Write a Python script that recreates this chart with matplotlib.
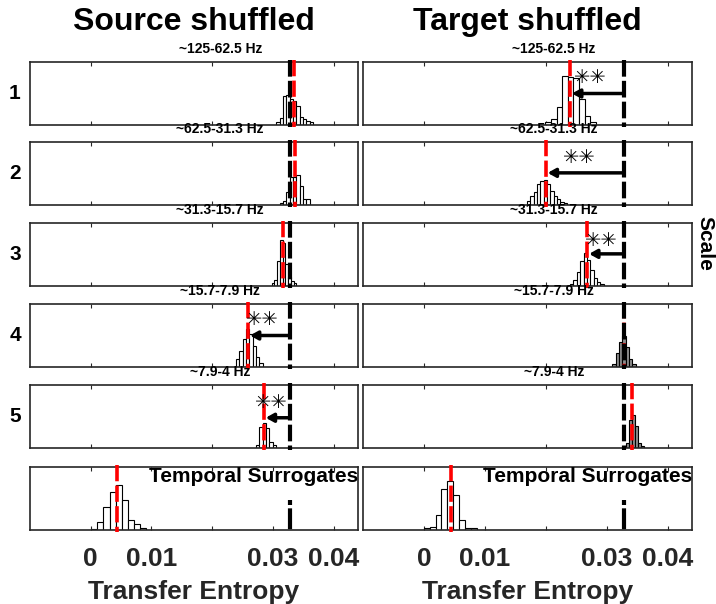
import numpy as np
import matplotlib
matplotlib.use("Agg")
import matplotlib.pyplot as plt

plt.rcParams['font.family'] = ['Liberation Sans', 'DejaVu Sans']

FS = 'Source shuffled'
TS = 'Target shuffled'
freq_labels = ['~125-62.5 Hz', '~62.5-31.3 Hz', '~31.3-15.7 Hz', '~15.7-7.9 Hz', '~7.9-4 Hz']
row_labels = ['1', '2', '3', '4', '5']
temporal_label = 'Temporal Surrogates'
observed_te = 0.0328

# Source-shuffled panels: (first bin edge, bin width, heights as fraction of panel)
src_start = [0.03055, 0.0311, 0.0298, 0.0239, 0.0272, 0.0001]
src_width = [0.00055, 0.00055, 0.00045, 0.00055, 0.00055, 0.001]
src_heights = [
    [0.05, 0.11, 0.46, 0.48, 0.42, 0.38, 0.30, 0.13, 0.10, 0.07, 0.04],
    [0.03, 0.06, 0.20, 0.45, 0.44, 0.48, 0.30, 0.10, 0.09],
    [0.04, 0.10, 0.39, 0.73, 0.68, 0.35, 0.15, 0.08, 0.04],
    [0.13, 0.26, 0.44, 0.60, 0.52, 0.34, 0.16, 0.07],
    [0.05, 0.34, 0.40, 0.32, 0.10, 0.04],
    [0.02, 0.12, 0.37, 0.60, 0.71, 0.47, 0.16, 0.10, 0.03],
]
src_red = [0.0334, 0.0337, 0.0316, 0.0259, 0.0285, 0.0043]
src_sig = [None, None, None, (0.0283, 0.75, 0.50), (0.0298, 0.72, 0.48), None]

# Target-shuffled panels
tgt_start = [0.0199, 0.0169, 0.0240, 0.0309, 0.0331, 0.0000]
tgt_width = [0.00093, 0.00055, 0.00055, 0.00055, 0.0005, 0.00096]
tgt_heights = [
    [0.04, 0.10, 0.28, 0.78, 0.76, 0.74, 0.42, 0.15, 0.04],
    [0.06, 0.14, 0.20, 0.33, 0.38, 0.40, 0.33, 0.22, 0.14, 0.09, 0.05, 0.03],
    [0.03, 0.10, 0.23, 0.39, 0.52, 0.42, 0.25, 0.12, 0.06, 0.03],
    [0.04, 0.23, 0.39, 0.50, 0.31, 0.13, 0.05],
    [0.08, 0.45, 0.52, 0.35, 0.08, 0.03],
    [0.03, 0.05, 0.24, 0.65, 0.78, 0.56, 0.16, 0.03, 0.03],
]
tgt_red = [0.0240, 0.0200, 0.0268, 0.0328, 0.0342, 0.0044]
tgt_sig = [(0.0273, 0.76, 0.50), (0.0255, 0.75, 0.51), (0.0291, 0.72, 0.51), None, None, None]
tgt_gray = [False, False, False, True, True, False]

sig_text = '✳✳'
xlim = (-0.01, 0.044)
ticks_main = [0, 0.02, 0.04]
ticks_bottom = [0, 0.01, 0.02, 0.03, 0.04]
tick_labels_bottom = ['0', '0.01', '', '0.03', '0.04']

W, H = 716, 604
fig = plt.figure(figsize=(W / 100, H / 100), dpi=100)

tops = [62, 142, 223, 304, 385, 467]
ph = 63
col_x = [(30, 328), (363, 329)]
AXC = '#262626'


def draw_panel(ax, start, width, heights, red, sig, gray, is_temporal):
    edges = start + width * np.arange(len(heights))
    ax.bar(edges, heights, width=width, align='edge',
           color='#8c8c8c' if gray else 'white', edgecolor='black', linewidth=0.8, zorder=2)
    ax.set_xlim(*xlim)
    ax.set_ylim(0, 1)
    ax.plot([red, red], [1.03, -0.03], color='red', lw=2.6, dashes=(4.5, 1.2), clip_on=False, zorder=4)
    if is_temporal:
        ax.plot([observed_te, observed_te], [0.47, -0.03], color='black', lw=3, dashes=(1.2, 0.8, 5, 1),
                clip_on=False, zorder=5)
    else:
        ax.plot([observed_te, observed_te], [1.03, -0.03], color='black', lw=3, dashes=(4, 1),
                clip_on=False, zorder=5)
    if sig is not None:
        sx, sy, ya = sig
        ax.annotate('', xy=(red + 0.0003, ya), xytext=(observed_te, ya),
                    arrowprops=dict(arrowstyle='-|>,head_length=0.45,head_width=0.25', lw=2.5,
                                    color='black', shrinkA=0, shrinkB=0), zorder=6)
        ax.text(sx, sy, sig_text, fontsize=14, fontweight='bold', ha='center', va='center',
                color='black', family=['DejaVu Sans'], zorder=7)
    for s in ax.spines.values():
        s.set_linewidth(1.2)
        s.set_color(AXC)
    ax.tick_params(axis='x', direction='in', top=True, bottom=True, length=3, width=0.8, colors=AXC)
    ax.tick_params(axis='y', left=False, right=False, labelleft=False)
    if is_temporal:
        ax.set_xticks(ticks_bottom)
        ax.set_xticklabels(tick_labels_bottom, fontsize=19, fontweight='bold', color=AXC)
        ax.tick_params(axis='x', pad=12, labeltop=False)
        ax.text(1.0, 1 - 10 / ph, temporal_label, transform=ax.transAxes, ha='right', va='center',
                fontsize=15, fontweight='bold', color='black', zorder=8)
    else:
        ax.set_xticks(ticks_main)
        ax.set_xticklabels([])


for c in range(2):
    x0, wpx = col_x[c]
    for r in range(6):
        y0 = 1 - (tops[r] + ph) / H
        ax = fig.add_axes([x0 / W, y0, wpx / W, ph / H])
        if c == 0:
            draw_panel(ax, src_start[r], src_width[r], src_heights[r], src_red[r], src_sig[r], False, r == 5)
        else:
            draw_panel(ax, tgt_start[r], tgt_width[r], tgt_heights[r], tgt_red[r], tgt_sig[r], tgt_gray[r], r == 5)
        if r < 5:
            ax.text(0.58, 1 + 13 / ph, freq_labels[r], transform=ax.transAxes, ha='center', va='center',
                    fontsize=10, fontweight='bold', color='black')
            if c == 0:
                fig.text(15 / W, 1 - (tops[r] + ph / 2) / H, row_labels[r], ha='center', va='center',
                         fontsize=15, fontweight='bold')
    cx = (x0 + wpx / 2) / W
    fig.text(cx, 1 - 592 / H, 'Transfer Entropy', ha='center', va='center', fontsize=19,
             fontweight='bold', color=AXC)
    fig.text(cx, 1 - 22 / H, FS if c == 0 else TS, ha='center', va='center', fontsize=23,
             fontweight='bold', color='black')

fig.text(705 / W, 1 - 243 / H, 'Scale', rotation=270, ha='center', va='center', fontsize=15,
         fontweight='bold')

fig.savefig('out.png', dpi=100)
